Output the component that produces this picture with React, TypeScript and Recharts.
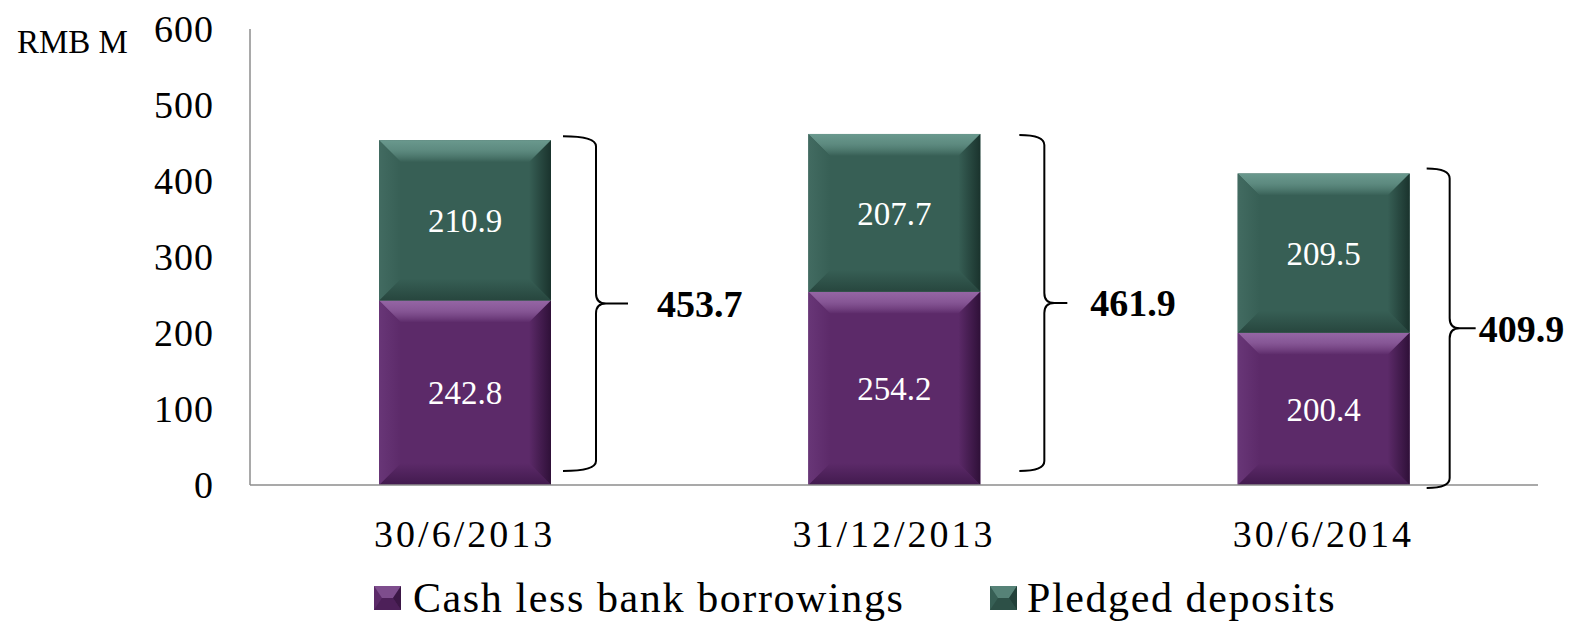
import React from 'react';
import { BarChart, Bar, XAxis, YAxis, LabelList, Legend } from 'recharts';

const categories = ['30/6/2013', '31/12/2013', '30/6/2014'];
const cashLessBorrowings = [242.8, 254.2, 200.4];
const pledgedDeposits = [210.9, 207.7, 209.5];
const totals = [453.7, 461.9, 409.9];
const yTicks = [0, 100, 200, 300, 400, 500, 600];
const seriesNames = ['Cash less bank borrowings', 'Pledged deposits'];

const data = categories.map((date, i) => ({
  date,
  cash: cashLessBorrowings[i],
  pledged: pledgedDeposits[i],
}));

const FONT = '"Liberation Serif", "Times New Roman", serif';

const palettes: Record<string, { main: string; light: string; side: string; dark: string; bottom: string }> = {
  cash: { main: '#5c2a69', light: '#9566a5', side: '#683677', dark: '#2f1038', bottom: '#421a4e' },
  pledged: { main: '#375f55', light: '#6a998e', side: '#426b61', dark: '#1a332d', bottom: '#27463e' },
};

// brace layout per category (pixel offsets from bar's right edge)
const braceLayout = [
  { gap: 12, arm: 33, tip: 32, text: 29, topAdj: -4, botAdj: -14 },
  { gap: 39, arm: 25, tip: 23, text: 23, topAdj: 1, botAdj: -14 },
  { gap: 17, arm: 23, tip: 26, text: 3, topAdj: -5, botAdj: 3 },
];

const makeBevel = (key: string) => (props: any) => {
  const { x, y, width, height, index } = props;
  if (width == null || height == null || height <= 0) return null;
  const p = palettes[key];
  const b = Math.min(22, width / 2, height / 2);
  const id = `${key}-${index}`;
  return (
    <g>
      <defs>
        <linearGradient id={`t-${id}`} x1="0" y1="0" x2="0" y2="1">
          <stop offset="0" stopColor={p.light} />
          <stop offset="0.45" stopColor={p.light} stopOpacity={0.75} />
          <stop offset="1" stopColor={p.main} />
        </linearGradient>
        <linearGradient id={`b-${id}`} x1="0" y1="0" x2="0" y2="1">
          <stop offset="0" stopColor={p.main} />
          <stop offset="1" stopColor={p.bottom} />
        </linearGradient>
        <linearGradient id={`l-${id}`} x1="0" y1="0" x2="1" y2="0">
          <stop offset="0" stopColor={p.side} />
          <stop offset="1" stopColor={p.main} />
        </linearGradient>
        <linearGradient id={`r-${id}`} x1="0" y1="0" x2="1" y2="0">
          <stop offset="0" stopColor={p.main} />
          <stop offset="1" stopColor={p.dark} />
        </linearGradient>
      </defs>
      <rect x={x} y={y} width={width} height={height} fill={p.main} />
      <polygon
        points={`${x},${y} ${x + width},${y} ${x + width - b},${y + b} ${x + b},${y + b}`}
        fill={`url(#t-${id})`}
      />
      <polygon
        points={`${x},${y + height} ${x + width},${y + height} ${x + width - b},${y + height - b} ${x + b},${y + height - b}`}
        fill={`url(#b-${id})`}
      />
      <polygon
        points={`${x},${y} ${x + b},${y + b} ${x + b},${y + height - b} ${x},${y + height}`}
        fill={`url(#l-${id})`}
      />
      <polygon
        points={`${x + width},${y} ${x + width - b},${y + b} ${x + width - b},${y + height - b} ${x + width},${y + height}`}
        fill={`url(#r-${id})`}
      />
    </g>
  );
};

const BraceLabel = (props: any) => {
  const { x, y, width, height, value } = props;
  const idx = categories.indexOf(value);
  if (idx < 0) return null;
  const ppu = height / pledgedDeposits[idx];
  const top = y;
  const base = y + totals[idx] * ppu;
  const L = braceLayout[idx];
  const left = x + width + L.gap;
  const spine = left + L.arm;
  const tipX = spine + L.tip;
  const t = top + L.topAdj;
  const bt = base + L.botAdj;
  const mid = (t + bt) / 2;
  const r = 10;
  const d = [
    `M ${left} ${t}`,
    `Q ${spine} ${t} ${spine} ${t + r}`,
    `L ${spine} ${mid - r}`,
    `Q ${spine} ${mid} ${spine + r} ${mid}`,
    `L ${tipX} ${mid}`,
    `M ${spine + r} ${mid}`,
    `Q ${spine} ${mid} ${spine} ${mid + r}`,
    `L ${spine} ${bt - r}`,
    `Q ${spine} ${bt} ${left} ${bt}`,
  ].join(' ');
  return (
    <g>
      <path d={d} fill="none" stroke="#000" strokeWidth={2} />
      <text
        x={tipX + L.text}
        y={mid}
        dy="0.35em"
        fontFamily={FONT}
        fontSize={38}
        fontWeight="bold"
        fill="#000"
      >
        {totals[idx].toFixed(1)}
      </text>
    </g>
  );
};

const LegendMarker = ({ k, x }: { k: string; x: number }) => {
  const p = palettes[k];
  const w = 27;
  const h = 24;
  const y = 12;
  const b = 8;
  return (
    <g>
      <rect x={x} y={y} width={w} height={h} fill={p.main} />
      <polygon points={`${x},${y} ${x + w},${y} ${x + w - b},${y + h / 2} ${x + b},${y + h / 2}`} fill={p.light} opacity={0.6} />
      <polygon points={`${x + w},${y} ${x + w - b},${y + h / 2} ${x + w},${y + h}`} fill={p.dark} opacity={0.7} />
      <polygon points={`${x},${y + h} ${x + w},${y + h} ${x + w - b},${y + h / 2} ${x + b},${y + h / 2}`} fill={p.bottom} opacity={0.6} />
    </g>
  );
};

const renderLegend = () => (
  <svg width={1594} height={51} style={{ display: 'block' }}>
    <LegendMarker k="cash" x={374} />
    <text x={413} y={38} fontFamily={FONT} fontSize={42} letterSpacing={1.6} fill="#000">
      {seriesNames[0]}
    </text>
    <LegendMarker k="pledged" x={990} />
    <text x={1027} y={38} fontFamily={FONT} fontSize={42} letterSpacing={1.6} fill="#000">
      {seriesNames[1]}
    </text>
  </svg>
);

const renderUnit = (props: any) => {
  const vb = props.viewBox || { x: 0, y: 29 };
  return (
    <text x={vb.x + 17} y={vb.y + 24} fontFamily={FONT} fontSize={33} fill="#000">
      RMB M
    </text>
  );
};

export default function App() {
  return (
    <div style={{ position: 'absolute', left: 0, top: 0, width: 1594, height: 627, background: '#fff' }}>
      <BarChart
        width={1594}
        height={627}
        data={data}
        margin={{ top: 29, right: 56, bottom: 0, left: 0 }}
        barSize={172}
      >
        <XAxis
          dataKey="date"
          height={142}
          tickSize={0}
          tickMargin={35}
          axisLine={{ stroke: '#8c8c8c', strokeWidth: 1.5 }}
          tick={{ fontFamily: FONT, fontSize: 38, fill: '#000', letterSpacing: 3 }}
          interval={0}
        />
        <YAxis
          width={250}
          domain={[0, 600]}
          ticks={yTicks}
          tickSize={0}
          tickMargin={36}
          axisLine={{ stroke: '#8c8c8c', strokeWidth: 1.5 }}
          tick={{ fontFamily: FONT, fontSize: 38, fill: '#000', letterSpacing: 1 }}
          label={{ value: 'RMB M', content: renderUnit }}
        />
        <Legend
          layout="horizontal"
          verticalAlign="middle"
          align="center"
          content={renderLegend}
          wrapperStyle={{ left: 0, top: 574, width: 1594, height: 51 }}
        />
        <Bar dataKey="cash" name={seriesNames[0]} stackId="a" isAnimationActive={false} shape={makeBevel('cash')}>
          <LabelList dataKey="cash" position="center" fill="#fff" fontFamily={FONT} fontSize={33} formatter={(v: any) => Number(v).toFixed(1)} />
        </Bar>
        <Bar dataKey="pledged" name={seriesNames[1]} stackId="a" isAnimationActive={false} shape={makeBevel('pledged')}>
          <LabelList dataKey="pledged" position="center" fill="#fff" fontFamily={FONT} fontSize={33} formatter={(v: any) => Number(v).toFixed(1)} />
          <LabelList dataKey="date" content={BraceLabel} />
        </Bar>
      </BarChart>
    </div>
  );
}
